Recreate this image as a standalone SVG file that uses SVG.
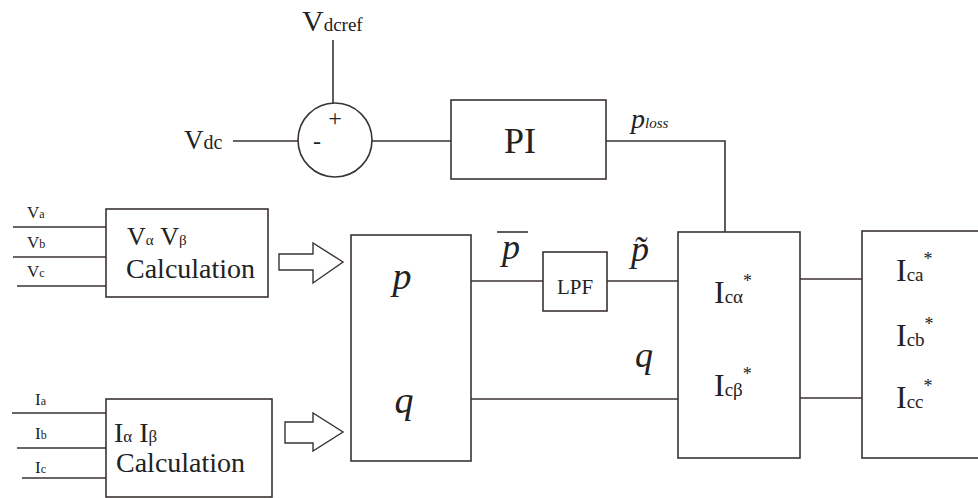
<svg xmlns="http://www.w3.org/2000/svg" width="978" height="498" viewBox="0 0 978 498">
<style>
.box{fill:#fff;stroke:#3a3232;stroke-width:1.6}
.ln{fill:none;stroke:#3a3232;stroke-width:1.6}
.arr{fill:#fff;stroke:#3a3232;stroke-width:1.4}
text{fill:#222;font-family:"Liberation Serif","Times New Roman",serif}
.it{font-style:italic}
</style>
<rect width="978" height="498" fill="#fff"/>
<g id="connectors">
<line class="ln" x1="333" y1="40" x2="333" y2="103"/>
<line class="ln" x1="233" y1="141" x2="298" y2="141"/>
<line class="ln" x1="372" y1="141" x2="451" y2="141"/>
<polyline class="ln" points="606,141 725,141 725,232"/>
<line class="ln" x1="471" y1="281" x2="543" y2="281"/>
<line class="ln" x1="607" y1="281" x2="678" y2="281"/>
<line class="ln" x1="471" y1="399" x2="678" y2="399"/>
<line class="ln" x1="800" y1="279" x2="862" y2="279"/>
<line class="ln" x1="800" y1="398" x2="862" y2="398"/>
<line class="ln" x1="13" y1="227" x2="106" y2="227"/>
<line class="ln" x1="13" y1="257" x2="106" y2="257"/>
<line class="ln" x1="17" y1="286" x2="106" y2="286"/>
<line class="ln" x1="12" y1="413" x2="106" y2="413"/>
<line class="ln" x1="17" y1="448" x2="106" y2="448"/>
<line class="ln" x1="22" y1="478" x2="106" y2="478"/>
<polygon class="arr" points="279,254 313,254 313,243 343,262 313,283 313,270 279,270"/>
<polygon class="arr" points="285,422 313,422 313,413 343,432 313,451 313,443 285,443"/>
</g>
<g id="vdcref">
<text x="302" y="31" font-size="30">V<tspan font-size="19">dcref</tspan></text>
</g>
<g id="vdc">
<text x="184" y="149" font-size="27">V<tspan font-size="20">dc</tspan></text>
</g>
<g id="sum">
<circle class="box" cx="335" cy="140" r="37"/>
<text x="335" y="126" font-size="24" text-anchor="middle">+</text>
<text x="317" y="149" font-size="24" text-anchor="middle">-</text>
</g>
<g id="pi">
<rect class="box" x="451" y="100" width="155" height="79"/>
<text x="520" y="153" font-size="36" text-anchor="middle">PI</text>
<text class="it" x="631" y="128" font-size="28">p<tspan font-size="15">loss</tspan></text>
</g>
<g id="valphabeta">
<rect class="box" x="106" y="209" width="162" height="88"/>
<text x="127" y="245" font-size="26">V<tspan font-size="15">α</tspan> V<tspan font-size="15">β</tspan></text>
<text x="126" y="278" font-size="28">Calculation</text>
<text x="27" y="218" font-size="17">V<tspan font-size="12">a</tspan></text>
<text x="27" y="248" font-size="17">V<tspan font-size="12">b</tspan></text>
<text x="27" y="277" font-size="17">V<tspan font-size="12">c</tspan></text>
</g>
<g id="ialphabeta">
<rect class="box" x="106" y="399" width="166" height="98"/>
<text x="114" y="442" font-size="28">I<tspan font-size="17">α</tspan> I<tspan font-size="17">β</tspan></text>
<text x="116" y="472" font-size="28">Calculation</text>
<text x="35" y="405" font-size="17">I<tspan font-size="12">a</tspan></text>
<text x="35" y="439" font-size="17">I<tspan font-size="12">b</tspan></text>
<text x="35" y="473" font-size="17">I<tspan font-size="12">c</tspan></text>
</g>
<g id="pq">
<rect class="box" x="351" y="235" width="120" height="226"/>
<text class="it" x="402" y="289" font-size="38" text-anchor="middle">p</text>
<text class="it" x="404" y="413" font-size="38" text-anchor="middle">q</text>
</g>
<g id="pbar-label">
<text class="it" x="511" y="259" font-size="36" text-anchor="middle">p</text>
<line class="ln" x1="497" y1="232" x2="528" y2="232"/>
</g>
<g id="ptilde-label">
<text class="it" x="640" y="261" font-size="36" text-anchor="middle">p̃</text>
</g>
<g id="q-label">
<text class="it" x="644" y="367" font-size="36" text-anchor="middle">q</text>
</g>
<g id="lpf">
<rect class="box" x="543" y="252" width="64" height="59"/>
<text x="575" y="294" font-size="21" text-anchor="middle">LPF</text>
</g>
<g id="icab">
<rect class="box" x="678" y="232" width="122" height="226"/>
<text x="714" y="303" font-size="32">I<tspan font-size="19">cα</tspan><tspan font-size="18" dy="-16">*</tspan></text>
<text x="714" y="396" font-size="32">I<tspan font-size="19">cβ</tspan><tspan font-size="18" dy="-16">*</tspan></text>
</g>
<g id="iabc">
<rect class="box" x="862" y="231" width="130" height="227"/>
<text x="896" y="281" font-size="32">I<tspan font-size="19">ca</tspan><tspan font-size="18" dy="-16">*</tspan></text>
<text x="896" y="346" font-size="32">I<tspan font-size="19">cb</tspan><tspan font-size="18" dy="-16">*</tspan></text>
<text x="896" y="408" font-size="32">I<tspan font-size="19">cc</tspan><tspan font-size="18" dy="-16">*</tspan></text>
</g>
</svg>
